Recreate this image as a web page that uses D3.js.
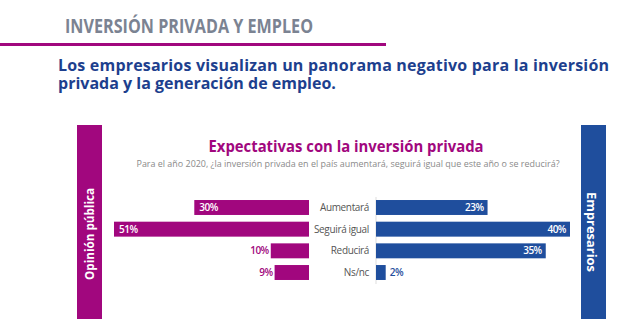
<!DOCTYPE html>
<meta charset="utf-8">
<style>
  body { margin: 0; background: #fff; }
  svg { display: block; }
</style>
<svg width="640" height="334"></svg>
<script src="https://cdnjs.cloudflare.com/ajax/libs/d3/7.8.5/d3.min.js"></script>
<script>

var categories = ["Aumentará", "Seguirá igual", "Reducirá", "Ns/nc"],
    publico = [30, 51, 10, 9],
    empresarios = [23, 40, 35, 2];

var magenta = "#a1077e",
    blue = "#1f4e9d",
    grey = "#7b8392";

var svg = d3.select("svg"),
    width = +svg.attr("width"),
    height = +svg.attr("height");

// header
svg.append("text")
    .attr("x", 65).attr("y", 33)
    .attr("font-family", "Open Sans").attr("font-weight", 700)
    .attr("font-size", 19.5).attr("fill", grey)
    .attr("textLength", 248).attr("lengthAdjust", "spacingAndGlyphs")
    .text("INVERSIÓN PRIVADA Y EMPLEO");

svg.append("rect")
    .attr("x", 0).attr("y", 43).attr("width", 386).attr("height", 3)
    .attr("fill", magenta);

svg.append("text")
    .attr("font-family", "Open Sans").attr("font-weight", 700)
    .attr("font-size", 16).attr("fill", "#1d3f8e")
    .selectAll("tspan")
    .data(["Los empresarios visualizan un panorama negativo para la inversión",
           "privada y la generación de empleo."])
    .join("tspan")
    .attr("x", 58)
    .attr("y", function(d, i) { return 70.5 + i * 18; })
    .attr("textLength", function(d, i) { return i ? null : 551; })
    .text(function(d) { return d; });

// side panels
svg.append("rect").attr("x", 77).attr("y", 125).attr("width", 25).attr("height", 194).attr("fill", magenta);
svg.append("rect").attr("x", 581).attr("y", 125).attr("width", 25).attr("height", 194).attr("fill", blue);

svg.append("text")
    .attr("transform", "translate(94,234) rotate(-90)")
    .attr("text-anchor", "middle")
    .attr("font-family", "Open Sans").attr("font-weight", 700)
    .attr("font-size", 13).attr("fill", "#fff")
    .attr("textLength", 92).attr("lengthAdjust", "spacingAndGlyphs")
    .text("Opinión pública");

svg.append("text")
    .attr("transform", "translate(587,232) rotate(90)")
    .attr("text-anchor", "middle")
    .attr("font-family", "Open Sans").attr("font-weight", 700)
    .attr("font-size", 13).attr("fill", "#fff")
    .attr("textLength", 80).attr("lengthAdjust", "spacingAndGlyphs")
    .text("Empresarios");

// chart title
svg.append("text")
    .attr("x", 346).attr("y", 152)
    .attr("text-anchor", "middle")
    .attr("font-family", "Open Sans").attr("font-weight", 700)
    .attr("font-size", 16).attr("fill", magenta)
    .attr("textLength", 275).attr("lengthAdjust", "spacingAndGlyphs")
    .text("Expectativas con la inversión privada");

svg.append("text")
    .attr("x", 348).attr("y", 167)
    .attr("text-anchor", "middle")
    .attr("font-family", "Open Sans")
    .attr("font-size", 9.2).attr("fill", "#8a8a8a")
    .attr("textLength", 423).attr("lengthAdjust", "spacingAndGlyphs")
    .text("Para el año 2020, ¿la inversión privada en el país aumentará, seguirá igual que este año o se reducirá?");

// scales
var y = d3.scaleBand()
    .domain(categories)
    .range([193.3, 286.7])
    .paddingInner(0.31)
    .paddingOuter(0.31);

var leftEdge = 309, rightEdge = 376;

var xl = d3.scaleLinear().domain([0, d3.max(publico)]).range([0, 195]),
    xr = d3.scaleLinear().domain([0, d3.max(empresarios)]).range([0, 194]);

var rows = categories.map(function(c, i) {
  return {cat: c, pub: publico[i], emp: empresarios[i]};
});

// left bars
svg.append("g").selectAll("rect")
  .data(rows)
  .join("rect")
    .attr("x", function(d) { return leftEdge - xl(d.pub); })
    .attr("y", function(d) { return y(d.cat); })
    .attr("width", function(d) { return xl(d.pub); })
    .attr("height", y.bandwidth())
    .attr("fill", magenta);

svg.append("g")
    .attr("font-family", "Open Sans").attr("font-weight", 600)
    .attr("font-size", 10).attr("letter-spacing", -0.5)
  .selectAll("text")
  .data(rows)
  .join("text")
    .attr("y", function(d) { return y(d.cat) + y.bandwidth() / 2; })
    .attr("dy", "0.35em")
    .each(function(d) {
      var w = xl(d.pub), t = d3.select(this);
      if (w > 40) t.attr("x", leftEdge - w + 5).attr("text-anchor", "start").attr("fill", "#fff");
      else t.attr("x", leftEdge - w - 2).attr("text-anchor", "end").attr("fill", magenta);
    })
    .text(function(d) { return d.pub + "%"; });

// right bars
svg.append("line")
    .attr("x1", rightEdge).attr("x2", rightEdge)
    .attr("y1", 197).attr("y2", 284)
    .attr("stroke", "#ddd");

svg.append("g").selectAll("rect")
  .data(rows)
  .join("rect")
    .attr("x", rightEdge)
    .attr("y", function(d) { return y(d.cat); })
    .attr("width", function(d) { return xr(d.emp); })
    .attr("height", y.bandwidth())
    .attr("fill", blue);

svg.append("g")
    .attr("font-family", "Open Sans").attr("font-weight", 600)
    .attr("font-size", 10).attr("letter-spacing", -0.5)
  .selectAll("text")
  .data(rows)
  .join("text")
    .attr("y", function(d) { return y(d.cat) + y.bandwidth() / 2; })
    .attr("dy", "0.35em")
    .each(function(d) {
      var w = xr(d.emp), t = d3.select(this);
      if (w > 40) t.attr("x", rightEdge + w - 4).attr("text-anchor", "end").attr("fill", "#fff");
      else t.attr("x", rightEdge + w + 4).attr("text-anchor", "start").attr("fill", blue);
    })
    .text(function(d) { return d.emp + "%"; });

// category labels
svg.append("g")
    .attr("font-family", "Open Sans")
    .attr("font-size", 10).attr("letter-spacing", -0.35).attr("fill", "#555")
  .selectAll("text")
  .data(categories)
  .join("text")
    .attr("x", 369)
    .attr("y", function(d) { return y(d) + y.bandwidth() / 2; })
    .attr("dy", "0.35em")
    .attr("text-anchor", "end")
    .text(function(d) { return d; });

</script>
